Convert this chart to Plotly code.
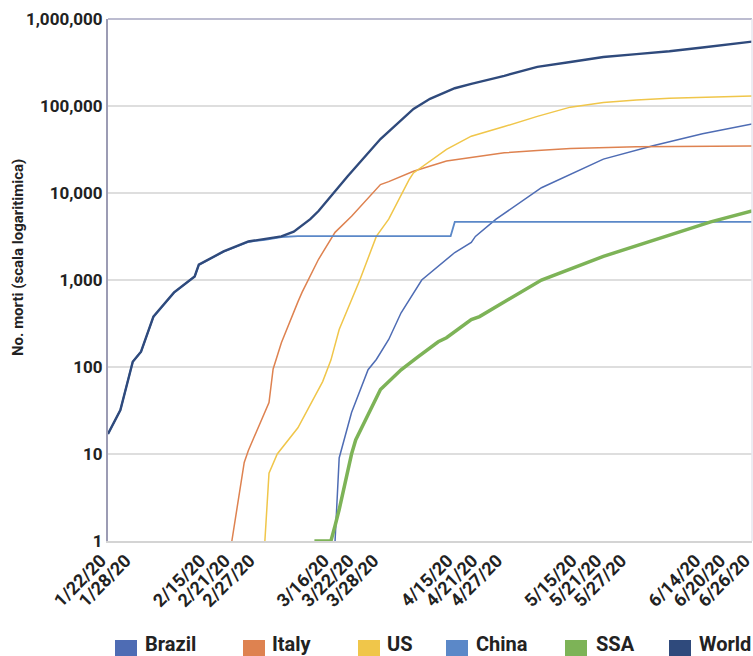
import plotly.graph_objects as go

# Cumulative deaths, log scale, Jan 22 - Jun 26 2020
world_dates = ["2020-01-22", "2020-01-25", "2020-01-28", "2020-01-30", "2020-02-02", "2020-02-07",
               "2020-02-12", "2020-02-13", "2020-02-19", "2020-02-25", "2020-03-04", "2020-03-07",
               "2020-03-11", "2020-03-13", "2020-03-20", "2020-03-28", "2020-04-05", "2020-04-09",
               "2020-04-15", "2020-04-19", "2020-04-27", "2020-05-05", "2020-05-13", "2020-05-21",
               "2020-05-29", "2020-06-06", "2020-06-14", "2020-06-26"]
world_vals = [17, 32, 115, 150, 380, 720, 1100, 1500, 2130, 2770, 3170, 3600,
              5000, 6200, 15500, 41700, 92600, 121000, 160000, 180000, 222000, 282000,
              320000, 366000, 395000, 426000, 470000, 550000]

china_dates = ["2020-01-22", "2020-01-25", "2020-01-28", "2020-01-30", "2020-02-02", "2020-02-07",
               "2020-02-12", "2020-02-13", "2020-02-19", "2020-02-25", "2020-02-29", "2020-03-04",
               "2020-03-08", "2020-04-14", "2020-04-15", "2020-06-26"]
china_vals = [17, 32, 115, 150, 375, 715, 1095, 1490, 2115, 2740, 2900, 3120,
              3200, 3200, 4650, 4650]

italy_dates = ["2020-02-21", "2020-02-24", "2020-02-25", "2020-03-01", "2020-03-02", "2020-03-04",
               "2020-03-08", "2020-03-09", "2020-03-13", "2020-03-17", "2020-03-21", "2020-03-28",
               "2020-03-30", "2020-04-05", "2020-04-13", "2020-04-19", "2020-04-27", "2020-05-05",
               "2020-05-13", "2020-05-29", "2020-06-26"]
italy_vals = [1, 8, 11, 39, 95, 190, 560, 720, 1730, 3530, 5400, 12500,
              13500, 17800, 23300, 25800, 29000, 30800, 32500, 34000, 34700]

us_dates = ["2020-02-29", "2020-03-01", "2020-03-03", "2020-03-08", "2020-03-14", "2020-03-16",
            "2020-03-18", "2020-03-21", "2020-03-23", "2020-03-27", "2020-03-30", "2020-04-04",
            "2020-04-05", "2020-04-13", "2020-04-19", "2020-04-27", "2020-05-05", "2020-05-13",
            "2020-05-21", "2020-05-29", "2020-06-06", "2020-06-26"]
us_vals = [1, 6, 10, 20, 68, 120, 270, 600, 1000, 3170, 5000, 14400,
           17000, 31700, 45000, 58000, 76000, 97000, 110000, 117000, 123000, 130000]

brazil_dates = ["2020-03-17", "2020-03-18", "2020-03-21", "2020-03-25", "2020-03-27", "2020-03-30",
                "2020-04-02", "2020-04-07", "2020-04-15", "2020-04-19", "2020-04-20", "2020-04-25",
                "2020-05-06", "2020-05-13", "2020-05-21", "2020-06-02", "2020-06-14", "2020-06-26"]
brazil_vals = [1, 9, 30, 93, 122, 207, 420, 1000, 2070, 2700, 3170, 5000,
               11500, 16500, 24500, 35000, 48000, 62000]

ssa_dates = ["2020-03-12", "2020-03-16", "2020-03-17", "2020-03-18", "2020-03-21", "2020-03-22",
             "2020-03-28", "2020-04-02", "2020-04-06", "2020-04-11", "2020-04-13", "2020-04-19",
             "2020-04-21", "2020-05-06", "2020-05-21", "2020-06-06", "2020-06-16", "2020-06-26"]
ssa_vals = [1, 1, 1.5, 2.3, 10, 14.5, 55, 93, 130, 195, 217, 350,
            380, 1000, 1870, 3300, 4650, 6200]

tick_dates = ["2020-01-22", "2020-01-28", "2020-02-15", "2020-02-21", "2020-02-27",
              "2020-03-16", "2020-03-22", "2020-03-28", "2020-04-15", "2020-04-21",
              "2020-04-27", "2020-05-15", "2020-05-21", "2020-05-27", "2020-06-14",
              "2020-06-20", "2020-06-26"]
tick_labels = ["1/22/20", "1/28/20", "2/15/20", "2/21/20", "2/27/20",
               "3/16/20", "3/22/20", "3/28/20", "4/15/20", "4/21/20",
               "4/27/20", "5/15/20", "5/21/20", "5/27/20", "6/14/20",
               "6/20/20", "6/26/20"]

y_ticks = [1, 10, 100, 1000, 10000, 100000, 1000000]
y_labels = ["1", "10", "100", "1,000", "10,000", "100,000", "1,000,000"]

series = [
    ("Brazil", brazil_dates, brazil_vals, "#4E6CB4", 1.5),
    ("Italy", italy_dates, italy_vals, "#DE8250", 1.5),
    ("US", us_dates, us_vals, "#F0C64A", 1.5),
    ("China", china_dates, china_vals, "#5B88C8", 1.8),
    ("SSA", ssa_dates, ssa_vals, "#7DB357", 3.5),
    ("World", world_dates, world_vals, "#2F4A7C", 2.4),
]

FONT = "Roboto"
W, H = 753, 656
L, R, T, B = 108, 1, 19, 115
pw, ph = W - L - R, H - T - B


def px_x(x):
    return (x - L) / pw


def px_y(y):
    return (H - B - y) / ph


fig = go.Figure()
for name, d, v, color, width in series:
    fig.add_trace(go.Scatter(x=d, y=v, mode="lines", name=name,
                             line=dict(color=color, width=width),
                             showlegend=False, hoverinfo="x+y+name"))

shapes = [
    dict(type="line", xref="paper", yref="paper", x0=0, x1=1, y0=1, y1=1,
         line=dict(color="#BCBCD0", width=2)),
    dict(type="line", xref="paper", yref="paper", x0=1, x1=1, y0=0, y1=1,
         line=dict(color="#E6E6EE", width=1.5)),
]
annotations = [
    dict(text="No. morti (scala logaritimica)", textangle=-90, showarrow=False,
         xref="paper", yref="paper", x=px_x(18), y=px_y(258),
         xanchor="center", yanchor="middle",
         font=dict(family=FONT, size=15, color="#222222", weight="bold")),
]

# legend: swatch left edge, label left edge
legend_pos = [("Brazil", 115, 143), ("Italy", 243, 270), ("US", 358, 385),
              ("China", 446, 474), ("SSA", 565, 594), ("World", 669, 697)]
colors = {s[0]: s[3] for s in series}
for name, sx, tx in legend_pos:
    shapes.append(dict(type="rect", xref="paper", yref="paper",
                       x0=px_x(sx), x1=px_x(sx + 22), y0=px_y(640), y1=px_y(656),
                       line=dict(width=0), fillcolor=colors[name]))
    annotations.append(dict(text=name, showarrow=False, xref="paper", yref="paper",
                            x=px_x(tx), y=px_y(644), xanchor="left", yanchor="middle",
                            font=dict(family=FONT, size=20, color="#222222", weight="bold")))

fig.update_layout(
    width=W, height=H,
    margin=dict(l=L, r=R, t=T, b=B, pad=0, autoexpand=False),
    paper_bgcolor="white", plot_bgcolor="white",
    showlegend=False,
    shapes=shapes, annotations=annotations,
    xaxis=dict(type="date", range=["2020-01-22", "2020-06-26"], automargin=False,
               tickmode="array", tickvals=tick_dates, ticktext=tick_labels,
               tickangle=-45, showgrid=False, ticks="", ticklabeloverflow="allow",
               ticklabelshift=-7,
               showline=True, linecolor="#D4D4D4", linewidth=2,
               tickfont=dict(family=FONT, size=18, color="#222222", weight="bold")),
    yaxis=dict(type="log", range=[0, 6], automargin=False,
               tickmode="array", tickvals=y_ticks, ticktext=y_labels,
               showgrid=True, gridcolor="#DEDEDE", gridwidth=1.5, ticks="",
               showline=True, linecolor="#9C9CB4", linewidth=2,
               tickfont=dict(family=FONT, size=17, color="#222222", weight="bold")),
)

fig.write_html("out.html")
